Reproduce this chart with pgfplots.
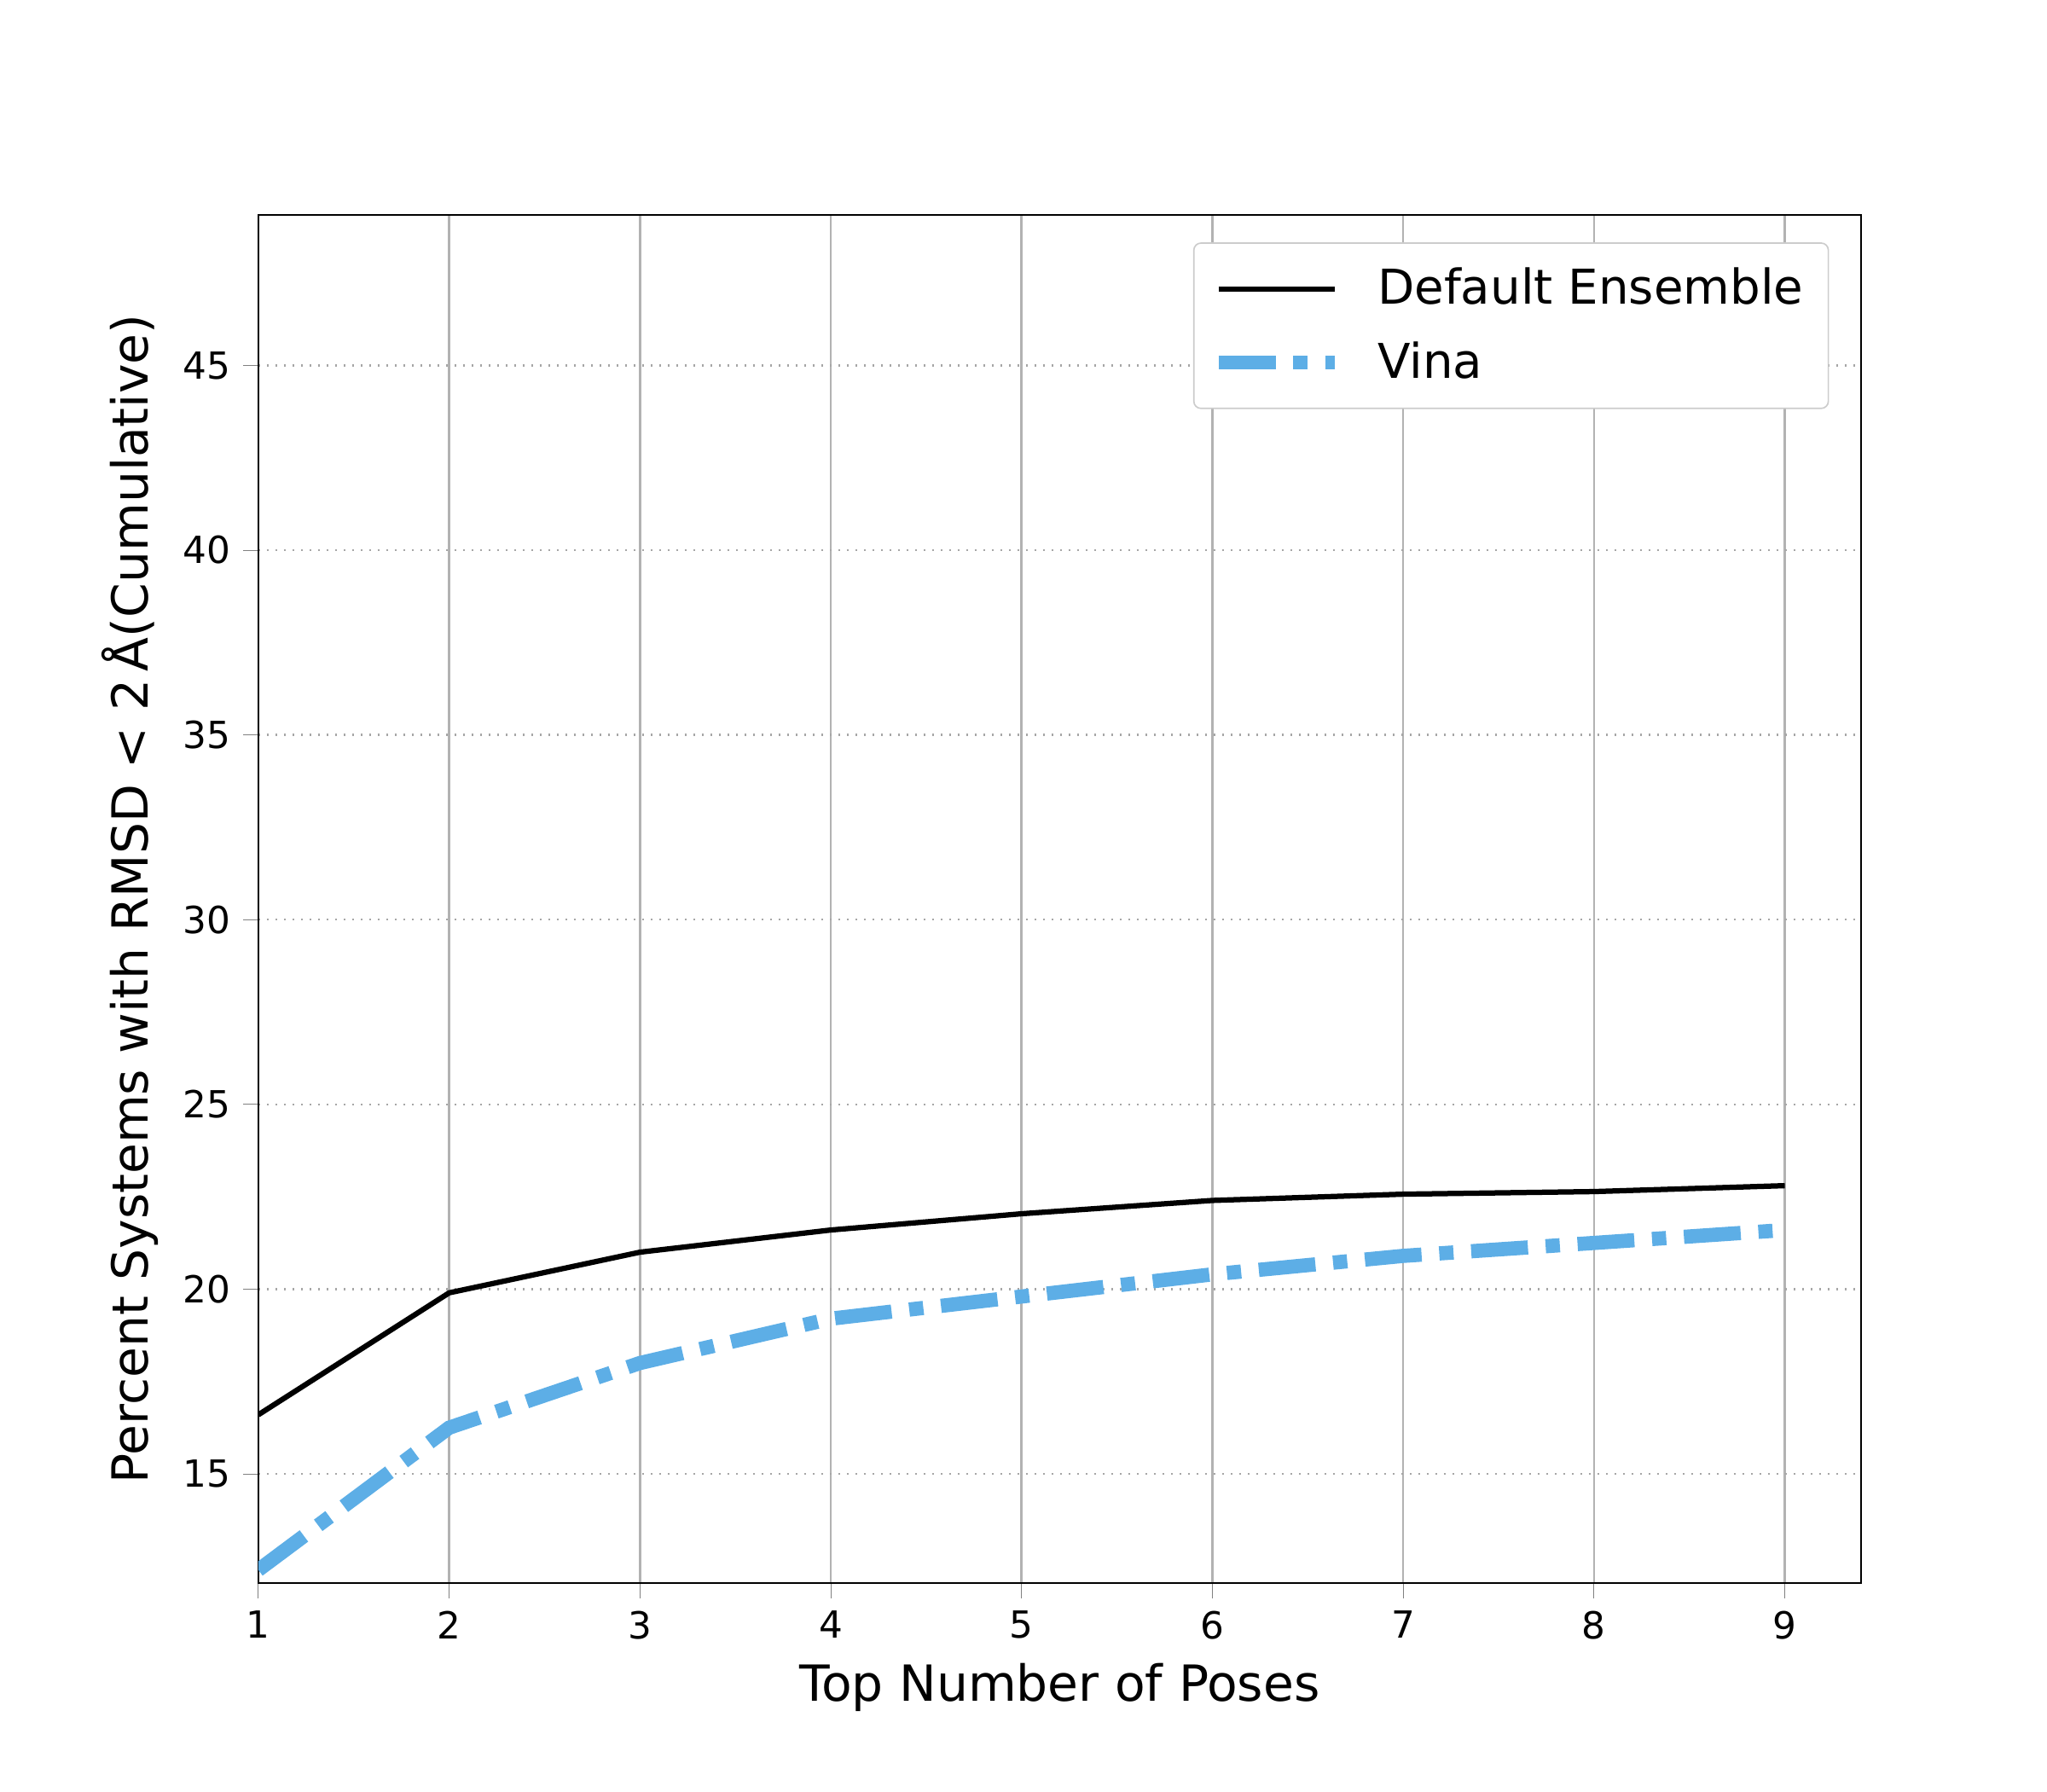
\documentclass[border=0pt]{standalone}
\usepackage{pgfplots}
\pgfplotsset{compat=1.18}
\usepackage{fontspec}
\setmainfont{DejaVu Sans}
\definecolor{vina}{RGB}{93,174,230}
\begin{document}
\begin{tikzpicture}
\path (-72.7pt,-58.6pt) rectangle (503.3pt,445.5pt);
\begin{axis}[at={(0,0)},anchor=south west,scale only axis,width=451pt,height=385pt,
xmin=1,xmax=9.4,ymin=12.04,ymax=49.07,
xtick={1,...,9},ytick={15,20,...,45},
tick pos=left,
/pgf/number format/assume math mode=true,
tick label style={font=\fontsize{10.5}{12}\selectfont},
xlabel={Top Number of Poses},ylabel={Percent Systems with RMSD < 2\,Å(Cumulative)},
label style={font=\fontsize{14}{16}\selectfont},
xmajorgrids,ymajorgrids,
x grid style={gray!60,line width=0.6pt},
y grid style={gray!70,dotted,line width=0.6pt},
tick align=outside,
legend style={at={(0.98,0.98)},anchor=north east,draw=gray!40,rounded corners=2pt,font=\fontsize{13.5}{16}\selectfont,row sep=5pt,inner sep=5pt},
legend cell align=left,
legend image code/.code={\draw[#1] (0cm,0cm) -- (1.15cm,0cm);},
]
\addplot[black,line width=1.5pt] coordinates {(1,16.6)(2,19.9)(3,21.0)(4,21.6)(5,22.04)(6,22.4)(7,22.57)(8,22.64)(9,22.8)};
\addlegendentry{\hspace{8pt}Default Ensemble}
\addplot[vina,line width=4pt,dash pattern=on 16pt off 5pt on 4pt off 5pt] coordinates {(1,12.4)(2,16.25)(3,18.0)(4,19.2)(5,19.8)(6,20.4)(7,20.9)(8,21.25)(9,21.6)};
\addlegendentry{\hspace{8pt}Vina}
\end{axis}
\end{tikzpicture}
\end{document}
